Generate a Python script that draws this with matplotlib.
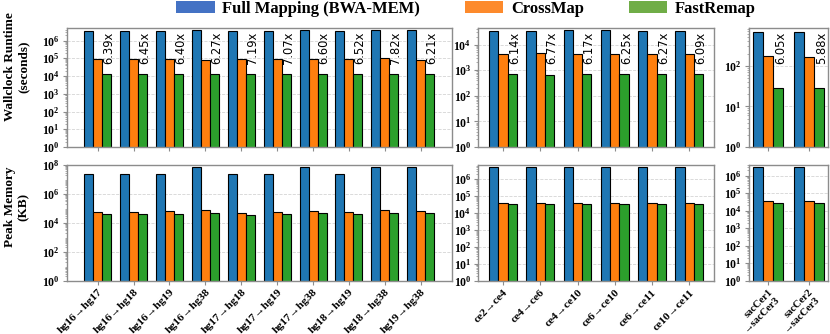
import numpy as np
import matplotlib
matplotlib.use("Agg")
import matplotlib.pyplot as plt
from matplotlib.ticker import LogLocator, LogFormatterMathtext, NullFormatter, FixedLocator
from matplotlib.patches import Patch

# ---------------- data ----------------
hg_labels = ["hg16→hg17", "hg16→hg18", "hg16→hg19", "hg16→hg38", "hg17→hg18",
             "hg17→hg19", "hg17→hg38", "hg18→hg19", "hg18→hg38", "hg19→hg38"]
ce_labels = ["ce2→ce4", "ce4→ce6", "ce4→ce10", "ce6→ce10", "ce6→ce11", "ce10→ce11"]
sac_labels = ["sacCer1\n→sacCer3", "sacCer2\n→sacCer3"]

# wallclock runtime (seconds)
hg_rt_full = [3.3e6, 3.3e6, 3.3e6, 3.8e6, 3.3e6, 3.3e6, 3.8e6, 3.3e6, 3.8e6, 3.8e6]
hg_rt_cross = [8.6e4, 8.7e4, 8.6e4, 8.5e4, 9.7e4, 9.5e4, 8.9e4, 8.8e4, 1.0e5, 8.4e4]
hg_rt_fast = [1.35e4, 1.35e4, 1.35e4, 1.36e4, 1.35e4, 1.34e4, 1.35e4, 1.35e4, 1.28e4, 1.35e4]
hg_speedup = ["6.39x", "6.45x", "6.40x", "6.27x", "7.19x", "7.07x", "6.60x", "6.52x", "7.82x", "6.21x"]

ce_rt_full = [3.3e4, 3.3e4, 3.6e4, 3.6e4, 3.3e4, 3.3e4]
ce_rt_cross = [4.2e3, 4.5e3, 4.3e3, 4.4e3, 4.3e3, 4.3e3]
ce_rt_fast = [690, 670, 700, 700, 690, 700]
ce_speedup = ["6.14x", "6.77x", "6.17x", "6.25x", "6.27x", "6.09x"]

sac_rt_full = [690, 690]
sac_rt_cross = [173, 168]
sac_rt_fast = [28.6, 28.6]
sac_speedup = ["6.05x", "5.88x"]

# peak memory (KB)
hg_mem_full = [2.3e7, 2.3e7, 2.3e7, 7.7e7, 2.3e7, 2.3e7, 7.7e7, 2.3e7, 7.7e7, 7.7e7]
hg_mem_cross = [5.7e4, 5.7e4, 6.3e4, 7.4e4, 5.1e4, 6.0e4, 7.1e4, 6.0e4, 7.4e4, 6.6e4]
hg_mem_fast = [3.9e4, 3.9e4, 4.4e4, 4.9e4, 3.7e4, 3.9e4, 4.9e4, 3.9e4, 4.9e4, 4.6e4]

ce_mem_full = [4.9e6, 4.9e6, 4.9e6, 4.9e6, 4.9e6, 4.9e6]
ce_mem_cross = [3.9e4, 3.9e4, 3.9e4, 3.9e4, 3.9e4, 3.9e4]
ce_mem_fast = [3.4e4, 3.4e4, 3.4e4, 3.4e4, 3.4e4, 3.4e4]

sac_mem_full = [3.3e6, 3.3e6]
sac_mem_cross = [3.8e4, 3.8e4]
sac_mem_fast = [2.9e4, 2.9e4]

series_names = ["Full Mapping (BWA-MEM)", "CrossMap", "FastRemap"]

# ---------------- style ----------------
bar_colors = ["#1f77b4", "#ff7f0e", "#2ca02c"]
legend_colors = ["#4472c4", "#fd8a2c", "#70ad47"]
SERIF = "Liberation Serif"
W, H = 830, 334

fig = plt.figure(figsize=(W / 100, H / 100), dpi=100)

def px_axes(x0, x1, y0, y1):
    return fig.add_axes([x0 / W, 1 - y1 / H, (x1 - x0) / W, (y1 - y0) / H])

cols = [(66.7, 451.7), (478.3, 714.0), (749.0, 828.0)]
rows = [(28.3, 147.0), (165.0, 280.7)]

panels_top = [
    (hg_rt_full, hg_rt_cross, hg_rt_fast, hg_speedup, 4.9e6, [0, 1, 2, 3, 4, 5, 6]),
    (ce_rt_full, ce_rt_cross, ce_rt_fast, ce_speedup, 4.3e4, [0, 1, 2, 3, 4]),
    (sac_rt_full, sac_rt_cross, sac_rt_fast, sac_speedup, 835, [0, 1, 2]),
]
panels_bot = [
    (hg_mem_full, hg_mem_cross, hg_mem_fast, hg_labels, 1.0e8, [0, 2, 4, 6, 8]),
    (ce_mem_full, ce_mem_cross, ce_mem_fast, ce_labels, 6.8e6, [0, 1, 2, 3, 4, 5, 6]),
    (sac_mem_full, sac_mem_cross, sac_mem_fast, sac_labels, 4.1e6, [0, 1, 2, 3, 4, 5, 6]),
]

w = 0.25

def style_axis(ax, ymax, decades):
    ax.set_yscale("log")
    ax.set_ylim(1, ymax)
    ax.yaxis.set_major_locator(FixedLocator([10.0 ** d for d in decades]))
    ax.yaxis.set_major_formatter(LogFormatterMathtext())
    ax.yaxis.set_minor_locator(LogLocator(base=10, subs=np.arange(2, 10), numticks=50))
    ax.yaxis.set_minor_formatter(NullFormatter())
    ax.set_axisbelow(True)
    ax.grid(axis="y", which="major", linestyle="--", color="#d4d4d4", linewidth=0.6)
    for s in ax.spines.values():
        s.set_color("#8c8c8c")
        s.set_linewidth(1.0)
    ax.tick_params(axis="both", which="major", colors="#8c8c8c", length=3, width=0.8,
                   labelcolor="black", pad=2)
    ax.tick_params(axis="y", which="minor", colors="#8c8c8c", length=1.5, width=0.5)
    for lab in ax.get_yticklabels():
        lab.set_fontfamily(SERIF)
        lab.set_fontweight("bold")
        lab.set_fontsize(8.5)

def draw_bars(ax, full, cross, fast):
    x = np.arange(len(full))
    for off, vals, c in zip((-w, 0, w), (full, cross, fast), bar_colors):
        ax.bar(x + off, vals, width=w, color=c, edgecolor="black", linewidth=0.8)
    ax.set_xticks(x)
    return x

axes_top = []
for (c0, c1), (full, cross, fast, spd, ymax, dec) in zip(cols, panels_top):
    ax = px_axes(c0, c1, *rows[0])
    x = draw_bars(ax, full, cross, fast)
    ax.set_xticklabels([])
    style_axis(ax, ymax, dec)
    for xi, s in zip(x, spd):
        ax.text(xi + w + 0.06, 0.97, s, transform=ax.get_xaxis_transform(),
                rotation=90, ha="center", va="top", fontsize=8.3,
                family="DejaVu Sans")
    axes_top.append(ax)

axes_bot = []
for (c0, c1), (full, cross, fast, labels, ymax, dec) in zip(cols, panels_bot):
    ax = px_axes(c0, c1, *rows[1])
    x = draw_bars(ax, full, cross, fast)
    ax.set_xticklabels(labels, rotation=45, ha="right", rotation_mode="anchor",
                       fontfamily=SERIF, fontweight="bold", fontsize=8.2)
    style_axis(ax, ymax, dec)
    axes_bot.append(ax)

for ax in (axes_top[2], axes_bot[2]):
    ax.set_xlim(-0.48, 1.48)
for lab in axes_bot[2].get_xticklabels():
    lab.set_fontsize(7.6)
    lab.set_linespacing(0.95)

fig.text(17 / W, 1 - 67 / H, "Wallclock Runtime\n(seconds)", rotation=90,
         ha="center", va="center", multialignment="center",
         family=SERIF, weight="bold", fontsize=9.5, linespacing=1.2)
fig.text(17 / W, 1 - 207 / H, "Peak Memory\n(KB)", rotation=90,
         ha="center", va="center", multialignment="center",
         family=SERIF, weight="bold", fontsize=9.5, linespacing=1.2)

handles = [Patch(facecolor=c, edgecolor="none") for c in legend_colors]
fig.legend(handles, series_names, loc="center", bbox_to_anchor=(466 / W, 1 - 9 / H),
           ncol=3, frameon=False, borderpad=0, borderaxespad=0,
           handlelength=2.3, handleheight=0.7, handletextpad=0.45, columnspacing=2.7,
           prop={"family": SERIF, "weight": "bold", "size": 12})

fig.savefig("out.png", dpi=100)
